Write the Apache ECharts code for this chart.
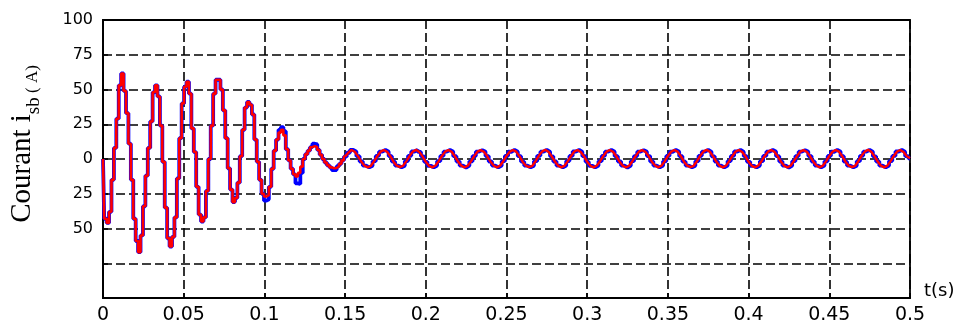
<!DOCTYPE html>
<html>
<head>
<meta charset="utf-8">
<script src="https://cdn.jsdelivr.net/npm/echarts@6/dist/echarts.min.js"></script>
<style>
html,body{margin:0;padding:0;background:#fff;}
#chart{width:958px;height:327px;}
</style>
</head>
<body>
<div id="chart"></div>
<script>
// transient part: red trace (A), one value every 0.0015 s from t = 0 to t = 0.15 s
const transientStep = 0.0015;
const transientCurrent = [
  0, -43, -46, -38, -15, 8, 29, 53, 61.5, 49,
  33, 11, -15, -43, -59, -67, -55, -34, -12, 8,
  27, 48, 53, 45, 24, -2, -35, -57, -63, -56,
  -42, -14, 15, 40, 52, 55.6, 47, 22, 5, -20,
  -40, -45, -42, -23, 0, 24, 47, 57, 57, 50,
  35, 15, -6.7, -22, -31, -28, -17, 2, 21, 37,
  41, 39, 32, 14, -2, -15, -25, -27, -26, -20,
  -7, 6, 14, 19, 21, 17, 7, -1, -7, -11,
  -12.5, -10, -5.5, 0, 3.5, 6, 8.5, 9.3, 8.5, 6.5,
  3, 0, -2.5, -4.5, -6, -6.7, -6.5, -5.2, -3.5, -1,
  1.7
];

// steady part: red trace (A), one value every 0.002 s from t = 0.15 to t = 0.5 s
const steadyStart = 0.15;
const steadyStep = 0.002;
const steadyCurrent = [
  1.7, 4.5, 6.5, 5.2, 2,
  -1.8, -4.8, -6, -4.9, -1.6, 2.2, 5.3, 6.5, 5.2, 2,
  -1.9, -4.8, -5.9, -4.8, -1.5, 2.3, 5.4, 6.6, 5.1, 1.9,
  -2, -4.9, -6, -4.7, -1.6, 2.2, 5.3, 6.5, 5.2, 2,
  -1.8, -4.8, -6.1, -4.8, -1.7, 2.1, 5.3, 6.4, 5.2, 2.1,
  -1.8, -4.7, -6, -4.8, -1.6, 2.2, 5.2, 6.5, 5.3, 2,
  -1.9, -4.8, -5.9, -4.9, -1.6, 2.3, 5.3, 6.6, 5.2, 1.9,
  -1.8, -4.8, -6, -4.8, -1.5, 2.2, 5.4, 6.5, 5.1, 2,
  -2, -4.9, -6, -4.7, -1.6, 2.2, 5.3, 6.5, 5.2, 2,
  -1.8, -4.8, -6.1, -4.8, -1.6, 2.1, 5.3, 6.4, 5.2, 2.1,
  -1.8, -4.7, -6, -4.8, -1.7, 2.2, 5.2, 6.5, 5.3, 2,
  -1.9, -4.8, -5.9, -4.9, -1.6, 2.3, 5.3, 6.6, 5.2, 1.9,
  -1.8, -4.8, -6, -4.8, -1.5, 2.2, 5.4, 6.5, 5.1, 2,
  -2, -4.9, -6, -4.7, -1.6, 2.2, 5.3, 6.5, 5.2, 2,
  -1.8, -4.8, -6.1, -4.8, -1.6, 2.1, 5.3, 6.4, 5.2, 2.1,
  -1.8, -4.7, -6, -4.8, -1.7, 2.2, 5.2, 6.5, 5.3, 2,
  -1.9, -4.8, -5.9, -4.9, -1.6, 2.3, 5.3, 6.6, 5.2, 1.9,
  -1.8, -4.8, -6, -4.8, -1.5, 2.2, 5.4, 6.5, 5.1, 2,
  0.5
];

// blue trace: same as red except where it visibly departs, [time s, current A]
const blueDeparts = [
  [0.1005, -30], [0.1020, -29], [0.1095, 21], [0.1110, 23], [0.1125, 20],
  [0.1200, -17.5], [0.1215, -18], [0.1230, -10], [0.1305, 11], [0.1320, 10.5],
  [0.1425, -8], [0.1440, -8]
];

const xTickLabels = ['0', '0.05', '0.1', '0.15', '0.2', '0.25', '0.3', '0.35', '0.4', '0.45', '0.5'];
const yTickValues = [100, 75, 50, 25, 0, -25, -50, -75, -100];
const yTickLabels = ['100', '75', '50', '25', '0', '25', '50', '', ''];

const blueTransient = transientCurrent.slice();
blueDeparts.forEach(function (p) { blueTransient[Math.round(p[0] / transientStep)] = p[1]; });

function pairs(arr, t0, dt) { return arr.map(function (v, i) { return [+(t0 + i * dt).toFixed(5), v]; }); }
const redTransientPairs = pairs(transientCurrent, 0, transientStep);
const steadyPairs = pairs(steadyCurrent, steadyStart, steadyStep);
const bluePairs = pairs(blueTransient, 0, transientStep).concat(steadyPairs.slice(1));

const chart = echarts.init(document.getElementById('chart'), null, { renderer: 'canvas' });
const gridDash = { color: '#000', type: [9, 4], width: 1.6 };
chart.setOption({
  animation: false,
  backgroundColor: '#fff',
  grid: { left: 103, right: 48, top: 20, bottom: 29, outerBoundsMode: 'none', containLabel: false,
          show: true, borderColor: '#000', borderWidth: 1.8, backgroundColor: 'transparent' },
  xAxis: {
    type: 'value', min: 0, max: 0.5, interval: 0.05,
    name: 't(s)', nameLocation: 'end', nameGap: 14,
    nameTextStyle: { fontFamily: 'DejaVu Sans', fontSize: 18, color: '#000', verticalAlign: 'bottom', lineHeight: 14 },
    axisLine: { show: true, onZero: false, lineStyle: { color: '#000', width: 1.8 } },
    axisTick: { show: true, inside: true, length: 5, lineStyle: { color: '#000', width: 1.5 } },
    axisLabel: {
      color: '#000', fontFamily: 'DejaVu Sans', fontSize: 19, margin: 8,
      formatter: function (v) { return xTickLabels[Math.round(v / 0.05)]; }
    },
    splitLine: { show: true, lineStyle: gridDash }
  },
  yAxis: {
    type: 'value', min: -100, max: 100, interval: 25,
    name: '{a|Courant i}{b|sb}{c| ( A)}', nameLocation: 'middle', nameGap: 59, nameRotate: 90,
    nameTextStyle: {
      color: '#000', padding: [0, 0, 0, 30],
      rich: {
        a: { fontFamily: 'Liberation Serif', fontSize: 29, color: '#000', verticalAlign: 'bottom', padding: [0, 0, 7, 0] },
        b: { fontFamily: 'Liberation Serif', fontSize: 19, color: '#000', verticalAlign: 'bottom' },
        c: { fontFamily: 'Liberation Serif', fontSize: 17, color: '#000', verticalAlign: 'bottom', padding: [0, 0, 3, 0] }
      }
    },
    axisLine: { show: true, onZero: false, lineStyle: { color: '#000', width: 1.8 } },
    axisTick: { show: true, inside: true, length: 5, lineStyle: { color: '#000', width: 1.5 } },
    axisLabel: {
      color: '#000', fontFamily: 'DejaVu Sans', fontSize: 16, margin: 10,
      formatter: function (v) { const k = yTickValues.indexOf(v); return k < 0 ? '' : yTickLabels[k]; }
    },
    splitLine: { show: true, lineStyle: gridDash }
  },
  series: [
    { type: 'line', name: 'blue', data: bluePairs, step: 'middle', showSymbol: false, z: 2,
      lineStyle: { color: '#0000ff', width: 3.8 } },
    { type: 'line', name: 'red', data: redTransientPairs, step: 'middle', showSymbol: false, z: 3,
      lineStyle: { color: '#ff0000', width: 2.6 } },
    { type: 'line', name: 'red steady', data: steadyPairs, showSymbol: false, z: 3,
      lineStyle: { color: '#ff0000', width: 2.4 } }
  ]
});
</script>
</body>
</html>
